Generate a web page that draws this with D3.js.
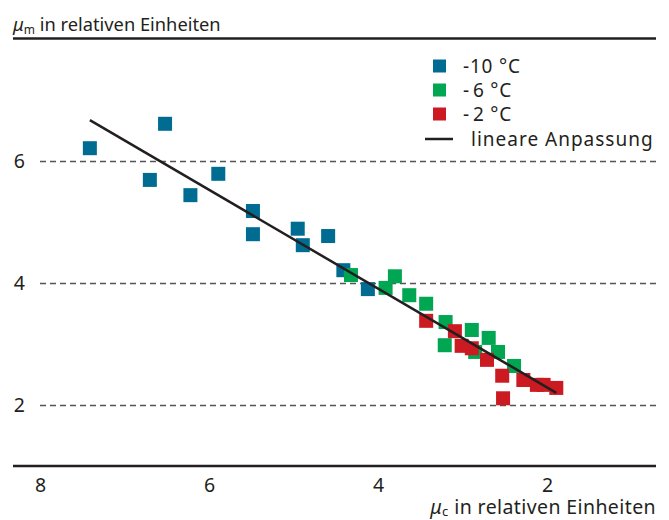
<!DOCTYPE html>
<html>
<head>
<meta charset="utf-8">
<script src="https://cdn.jsdelivr.net/npm/d3@7"></script>
<style>
  body { margin: 0; background: #fff; }
  svg text { font-family: "Noto Sans", "Open Sans", sans-serif; fill: #231f20; }
</style>
</head>
<body>
<svg id="chart"></svg>
<script>
/* DATA */
// -10 °C
const blueX = [7.41, 6.52, 6.70, 6.22, 5.89, 5.48, 5.48, 4.95, 4.89, 4.59, 4.41, 4.12];
const blueY = [6.21, 6.61, 5.69, 5.44, 5.79, 5.18, 4.80, 4.89, 4.62, 4.77, 4.21, 3.90];
// -6 °C
const greenX = [4.32, 3.80, 3.91, 3.63, 3.43, 3.20, 3.21, 2.89, 2.69, 2.85, 2.58, 2.39];
const greenY = [4.13, 4.11, 3.92, 3.80, 3.66, 3.36, 2.98, 3.23, 3.10, 2.87, 2.87, 2.64];
// -2 °C
const redX = [3.43, 3.09, 3.01, 2.89, 2.71, 2.53, 2.52, 2.28, 2.12, 2.04, 1.89];
const redY = [3.38, 3.21, 2.97, 2.93, 2.74, 2.48, 2.11, 2.41, 2.33, 2.33, 2.28];
// lineare Anpassung (end points)
const fitX = [7.41, 1.89];
const fitY = [6.67, 2.20];

const xTicks = [8, 6, 4, 2];
const yTicks = [2, 4, 6];
const legendSign = ["-", "-", "-"];
const legendRest = ["10 °C", "6 °C", "2 °C"];
const colors = ["#006c92", "#00a651", "#cc1a22"];

/* LAYOUT */
const width = 669, height = 520;
const plotLeft = 40, plotRight = 656;
const frameLeft = 13;
const sq = 14;

const svg = d3.select("#chart").attr("width", width).attr("height", height);

const xScale = d3.scaleLinear().domain([8, 2]).range([40, 547]);
const yScale = d3.scaleLinear().domain([2, 6]).range([405, 161]);

// top and bottom frame lines
svg.append("line")
  .attr("x1", frameLeft).attr("x2", plotRight)
  .attr("y1", 38.5).attr("y2", 38.5)
  .attr("stroke", "#231f20").attr("stroke-width", 2.5);

svg.append("line")
  .attr("x1", frameLeft).attr("x2", plotRight)
  .attr("y1", 466).attr("y2", 466)
  .attr("stroke", "#231f20").attr("stroke-width", 2.5);

// y axis with dashed grid
const yAxis = d3.axisLeft(yScale)
  .tickValues(yTicks)
  .tickSize(-(plotRight - plotLeft))
  .tickPadding(15)
  .tickFormat(d3.format("d"));

const yAxisGroup = svg.append("g")
  .attr("transform", `translate(${plotLeft},0)`)
  .call(yAxis);
yAxisGroup.select(".domain").remove();
yAxisGroup.selectAll("line")
  .attr("stroke", "#555")
  .attr("stroke-width", 1.5)
  .attr("stroke-dasharray", "6,4");
yAxisGroup.selectAll("text")
  .attr("font-size", 19.5)
  .attr("font-family", null)
  .attr("fill", null);

// x axis
const xAxis = d3.axisBottom(xScale)
  .tickValues(xTicks)
  .tickSize(0)
  .tickPadding(12)
  .tickFormat(d3.format("d"));

const xAxisGroup = svg.append("g")
  .attr("transform", "translate(0,466)")
  .call(xAxis);
xAxisGroup.select(".domain").remove();
xAxisGroup.selectAll("text")
  .attr("font-size", 19.5)
  .attr("font-family", null)
  .attr("fill", null);

// axis titles
const yTitle = svg.append("text")
  .attr("x", frameLeft).attr("y", 31)
  .attr("font-size", 18.3);
yTitle.append("tspan").attr("font-style", "italic").text("μ");
yTitle.append("tspan").attr("font-size", 12).attr("dy", 3).text("m");
yTitle.append("tspan").attr("dy", -3).text(" in relativen Einheiten");

const xTitle = svg.append("text")
  .attr("x", plotRight).attr("y", 514)
  .attr("text-anchor", "end")
  .attr("font-size", 19.5)
  .attr("letter-spacing", 0.4);
xTitle.append("tspan").attr("font-style", "italic").text("μ");
xTitle.append("tspan").attr("font-size", 13).attr("dy", 2).text("c");
xTitle.append("tspan").attr("dy", -2).text(" in relativen Einheiten");

// fit line
const fitData = fitX.map((x, i) => ({ x: x, y: fitY[i] }));
const lineFunction = d3.line()
  .x(d => xScale(d.x))
  .y(d => yScale(d.y));

// points
const groups = [
  blueX.map((x, i) => ({ x: x, y: blueY[i] })),
  greenX.map((x, i) => ({ x: x, y: greenY[i] })),
  redX.map((x, i) => ({ x: x, y: redY[i] }))
];

groups.forEach((g, gi) => {
  svg.append("g")
    .selectAll("rect")
    .data(g)
    .join("rect")
    .attr("x", d => xScale(d.x) - sq / 2)
    .attr("y", d => yScale(d.y) - sq / 2)
    .attr("width", sq)
    .attr("height", sq)
    .attr("fill", colors[gi]);
});

svg.append("path")
  .datum(fitData)
  .attr("d", lineFunction)
  .attr("fill", "none")
  .attr("stroke", "#231f20")
  .attr("stroke-width", 2.5);

// legend
const legend = svg.append("g");
const rowY = [66, 90, 114];
legendRest.forEach((lab, i) => {
  legend.append("rect")
    .attr("x", 433).attr("y", rowY[i] - 6.5)
    .attr("width", 13).attr("height", 13)
    .attr("fill", colors[i]);
  const t = legend.append("text")
    .attr("x", 463).attr("y", rowY[i] + 7)
    .attr("font-size", 19)
    .attr("letter-spacing", 0.8);
  t.append("tspan").text(legendSign[i]);
  t.append("tspan").attr("dx", i === 0 ? 0 : 3).text(lab);
});
legend.append("line")
  .attr("x1", 425).attr("x2", 453)
  .attr("y1", 139).attr("y2", 139)
  .attr("stroke", "#231f20").attr("stroke-width", 2.5);
legend.append("text")
  .attr("x", 471).attr("y", 146)
  .attr("font-size", 19)
  .attr("letter-spacing", 1)
  .text("lineare Anpassung");
</script>
</body>
</html>
